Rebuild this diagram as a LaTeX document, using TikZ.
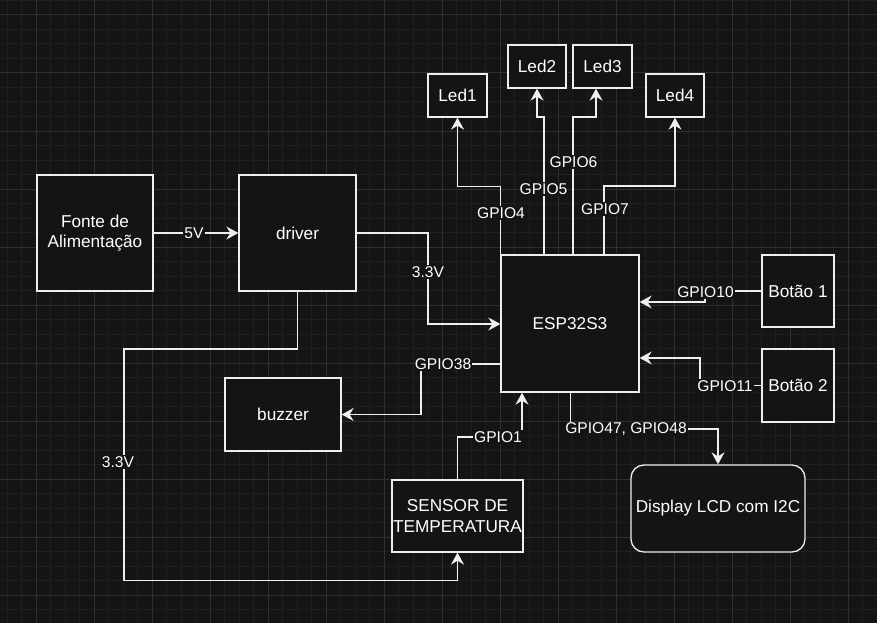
\documentclass[tikz,border=0pt]{standalone}
\usepackage{fontspec}
\setmainfont{Liberation Sans}
\usetikzlibrary{arrows.meta}
\definecolor{bgc}{HTML}{141414}
\definecolor{minorc}{HTML}{1F1F1F}
\definecolor{majorc}{HTML}{303030}
\definecolor{fg}{HTML}{EEEEEE}
\begin{document}
\begin{tikzpicture}[x=1pt,y=-1pt,
  box/.style={draw=fg, fill=bgc, line width=1.3pt, inner sep=0pt, align=center, text=white, font=\fontsize{17.2}{20.7}\selectfont},
  lbl/.style={fill=bgc, text=white, inner sep=1pt, font=\fontsize{15.6}{18}\selectfont},
  wire/.style={draw=fg, line width=1.3pt},
  arr/.style={wire, -{Stealth[length=12pt,width=13pt,inset=4pt]}}]
\fill[bgc] (0,0) rectangle (877,623);
\useasboundingbox (0,0) rectangle (877,623);
% grid
\foreach \i in {0,...,60} {\draw[minorc, line width=1pt] ({7.3+14.5*\i},0) -- ({7.3+14.5*\i},623);}
\foreach \i in {0,...,43} {\draw[minorc, line width=1pt] (0,{0.5+14.5*\i}) -- (877,{0.5+14.5*\i});}
\foreach \i in {0,...,14} {\draw[majorc, line width=1pt] ({36.3+58*\i},0) -- ({36.3+58*\i},623);}
\foreach \i in {0,...,10} {\draw[majorc, line width=1pt] (0,{15+58*\i}) -- (877,{15+58*\i});}
% nodes
\node[box, minimum width=116pt, minimum height=116pt] (fonte) at (95,233) {Fonte de\\Alimentação};
\node[box, minimum width=117pt, minimum height=116pt] (driver) at (297.5,233) {driver};
\node[box, minimum width=138pt, minimum height=137pt] (esp) at (570,323.5) {ESP32S3};
\node[box, minimum width=59pt, minimum height=43pt] (led1) at (457.5,95.5) {Led1};
\node[box, minimum width=58pt, minimum height=43pt] (led2) at (537,66.5) {Led2};
\node[box, minimum width=59pt, minimum height=43pt] (led3) at (602.5,66.5) {Led3};
\node[box, minimum width=58pt, minimum height=43pt] (led4) at (675,95.5) {Led4};
\node[box, minimum width=72pt, minimum height=72pt] (botao1) at (798,291) {Botão 1};
\node[box, minimum width=72pt, minimum height=73pt] (botao2) at (798,385.5) {Botão 2};
\node[box, minimum width=116pt, minimum height=73pt] (buzzer) at (283,414.5) {buzzer};
\node[box, minimum width=131pt, minimum height=72pt, font=\fontsize{17.2}{21.5}\selectfont] (sensor) at (457.5,516) {SENSOR DE\\TEMPERATURA};
\node[box, minimum width=174pt, minimum height=87pt, rounded corners=13pt] (display) at (718,508.5) {Display LCD com I2C};
% connectors
\draw[arr] (fonte.east) -- (driver.west);
\draw[arr] (driver.east) -| (428,324) -- (esp.west |- 0,324);
\draw[arr] (driver.south) -- (driver.south |- 0,349) -| (124,580.5) -| (sensor.south);
\draw[arr] (esp.north west) -- (esp.north west |- 0,186.5) -| (led1.south);
\draw[arr] (esp.north -| 544,0) -- (544,117) -| (led2.south);
\draw[arr] (esp.north -| 573,0) -- (573,117) -| (led3.south -| 596,0);
\draw[arr] (esp.north -| 604,0) -- (604,186) -| (led4.south);
\draw[arr] (botao1.west) -- (705,291) -- (705,302) -- (esp.east |- 0,302);
\draw[arr] (botao2.west) -- (700,385.5) -- (700,358) -- (esp.east |- 0,358);
\draw[arr] (esp.west |- 0,364) -- (421,364) -- (421,414.5) -- (buzzer.east);
\draw[arr] (sensor.north) -- (457.5,437) -- (522,437) -- (esp.south -| 522,0);
\draw[arr] (esp.south -| 570.5,0) -- (570.5,429) -| (display.north);
% labels
\node[lbl] (l5v) at (194,233) {5V};
\node[lbl] (l33a) at (428,272) {3.3V};
\node[lbl] (l33b) at (118,462) {3.3V};
\node[lbl] (lg4) at (501,213) {GPIO4};
\node[lbl] (lg5) at (543.5,189) {GPIO5};
\node[lbl] (lg6) at (573.5,162) {GPIO6};
\node[lbl] (lg7) at (605,209) {GPIO7};
\node[lbl] (lg10) at (705.5,292.5) {GPIO10};
\node[lbl] (lg11) at (725,386) {GPIO11};
\node[lbl] (lg38) at (443,364) {GPIO38};
\node[lbl] (lg1) at (498,437) {GPIO1};
\node[lbl] (lg47) at (626,429) {GPIO47, GPIO48};
\end{tikzpicture}
\end{document}
